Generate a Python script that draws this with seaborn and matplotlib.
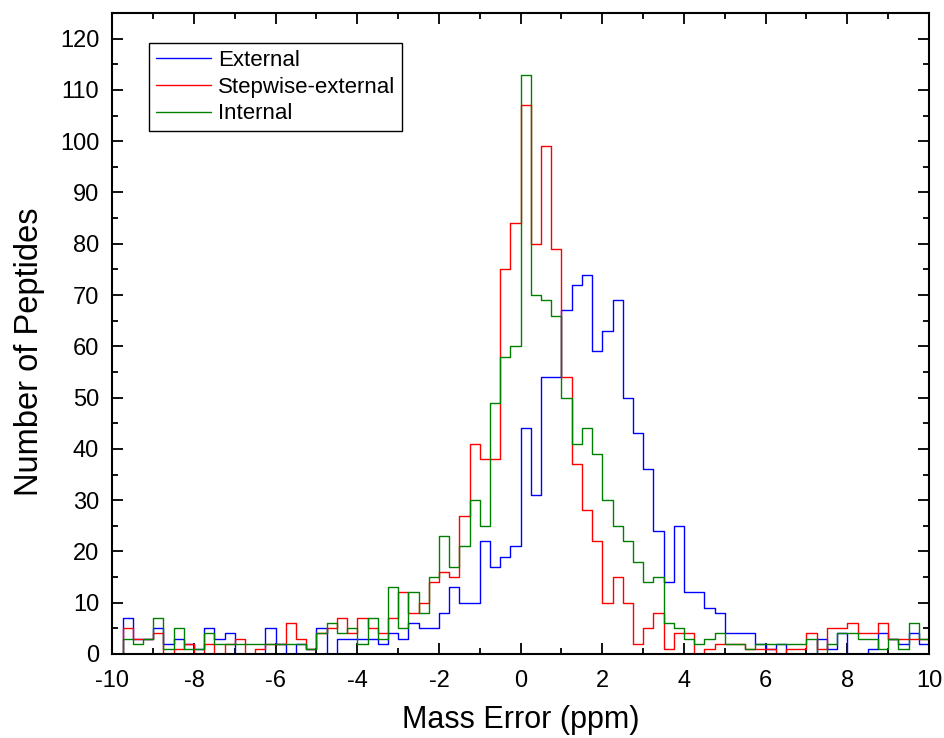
import numpy as np
import pandas as pd
import matplotlib
matplotlib.use("Agg")
import matplotlib.pyplot as plt
import seaborn as sns
from matplotlib.ticker import MultipleLocator

# ---- data: counts per 0.25 ppm bin, starting at -10 ppm ----
bin_start = -10.0
bin_width = 0.25

external = [0, 7, 3, 3, 5, 2, 3, 2, 1, 5, 3, 4, 0, 0, 0, 5, 2, 0, 2, 1,
            5, 0, 3, 3, 3, 3, 2, 4, 3, 6, 5, 5, 8, 13, 10, 10, 22, 17, 19, 21,
            44, 31, 54, 54, 67, 72, 74, 59, 63, 69, 50, 43, 36, 24, 14, 25, 12, 12, 9, 8,
            4, 4, 4, 2, 1, 2, 0, 0, 0, 3, 1, 4, 0, 0, 1, 4, 3, 2, 4, 2, 6]
stepwise = [0, 5, 3, 3, 4, 0, 1, 2, 0, 2, 0, 2, 3, 0, 1, 2, 2, 6, 3, 1,
            4, 5, 7, 4, 7, 5, 4, 7, 12, 8, 10, 14, 16, 15, 27, 41, 38, 38, 75, 84,
            107, 80, 99, 79, 54, 37, 28, 22, 10, 15, 10, 2, 5, 8, 1, 4, 4, 0, 1, 2,
            2, 2, 1, 1, 1, 0, 1, 1, 4, 1, 5, 5, 6, 4, 4, 6, 3, 3, 3, 3, 3]
internal = [0, 3, 2, 3, 7, 1, 5, 1, 1, 4, 2, 2, 2, 2, 2, 2, 2, 2, 2, 1,
            4, 6, 4, 5, 2, 7, 3, 13, 5, 12, 8, 15, 23, 17, 21, 30, 25, 49, 58, 60,
            113, 70, 69, 66, 50, 41, 44, 39, 30, 25, 22, 18, 14, 15, 6, 5, 3, 2, 3, 4,
            2, 2, 1, 2, 2, 2, 2, 2, 3, 0, 2, 4, 4, 3, 3, 1, 3, 1, 6, 3, 3]

series_names = ["External", "Stepwise-external", "Internal"]
series_colors = ["#0000FF", "#FF0000", "#008000"]
x_ticks = [-10, -8, -6, -4, -2, 0, 2, 4, 6, 8, 10]
y_ticks = [0, 10, 20, 30, 40, 50, 60, 70, 80, 90, 100, 110, 120]

n_bins = len(external)
centers = bin_start + bin_width * (np.arange(n_bins) + 0.5)
edges = [float(e) for e in bin_start + bin_width * np.arange(n_bins + 1)]

sns.set_style("ticks")
plt.rcParams["font.family"] = ["Liberation Sans", "DejaVu Sans"]
plt.rcParams["axes.unicode_minus"] = False
for k in ["text.color", "axes.labelcolor", "xtick.color", "ytick.color", "axes.edgecolor"]:
    plt.rcParams[k] = "black"

fig = plt.figure(figsize=(9.45, 7.38), dpi=100)
ax = fig.add_axes([112.3 / 945, 1 - 654 / 738, (929.0 - 112.3) / 945, (654 - 13) / 738])

for name, vals, col in zip(series_names, [external, stepwise, internal], series_colors):
    df = pd.DataFrame({"err": centers, "count": vals})
    sns.histplot(data=df, x="err", weights="count", bins=edges, element="step",
                 fill=False, color=col, linewidth=1.0, label=name, ax=ax)

ax.set_xlim(-10, 10)
ax.set_ylim(0, 125)
ax.set_xticks(x_ticks)
ax.set_yticks(y_ticks)
ax.xaxis.set_minor_locator(MultipleLocator(1))
ax.yaxis.set_minor_locator(MultipleLocator(5))
ax.tick_params(which="both", direction="in", top=True, right=True,
               width=1.3, color="black", labelcolor="black", labelsize=17)
ax.tick_params(which="major", length=8)
ax.tick_params(which="minor", length=4.5)
ax.tick_params(axis="x", pad=11.5)
ax.tick_params(axis="y", pad=9.4)
for s in ax.spines.values():
    s.set_linewidth(1.5)
    s.set_color("black")

ax.set_xlabel("Mass Error (ppm)", fontsize=22, labelpad=9.5)
ax.set_ylabel("Number of Peptides", fontsize=23.5)
ax.yaxis.set_label_coords(-0.082, 0.4716)

leg = ax.legend(loc="upper left", bbox_to_anchor=(0.045, 0.953), borderaxespad=0,
                fontsize=16, frameon=True, fancybox=False, framealpha=1,
                edgecolor="black", handlelength=2.48, handletextpad=0.32,
                labelspacing=0.26, borderpad=0.3)
leg.get_frame().set_linewidth(1.0)

fig.savefig("out.png", dpi=100)
